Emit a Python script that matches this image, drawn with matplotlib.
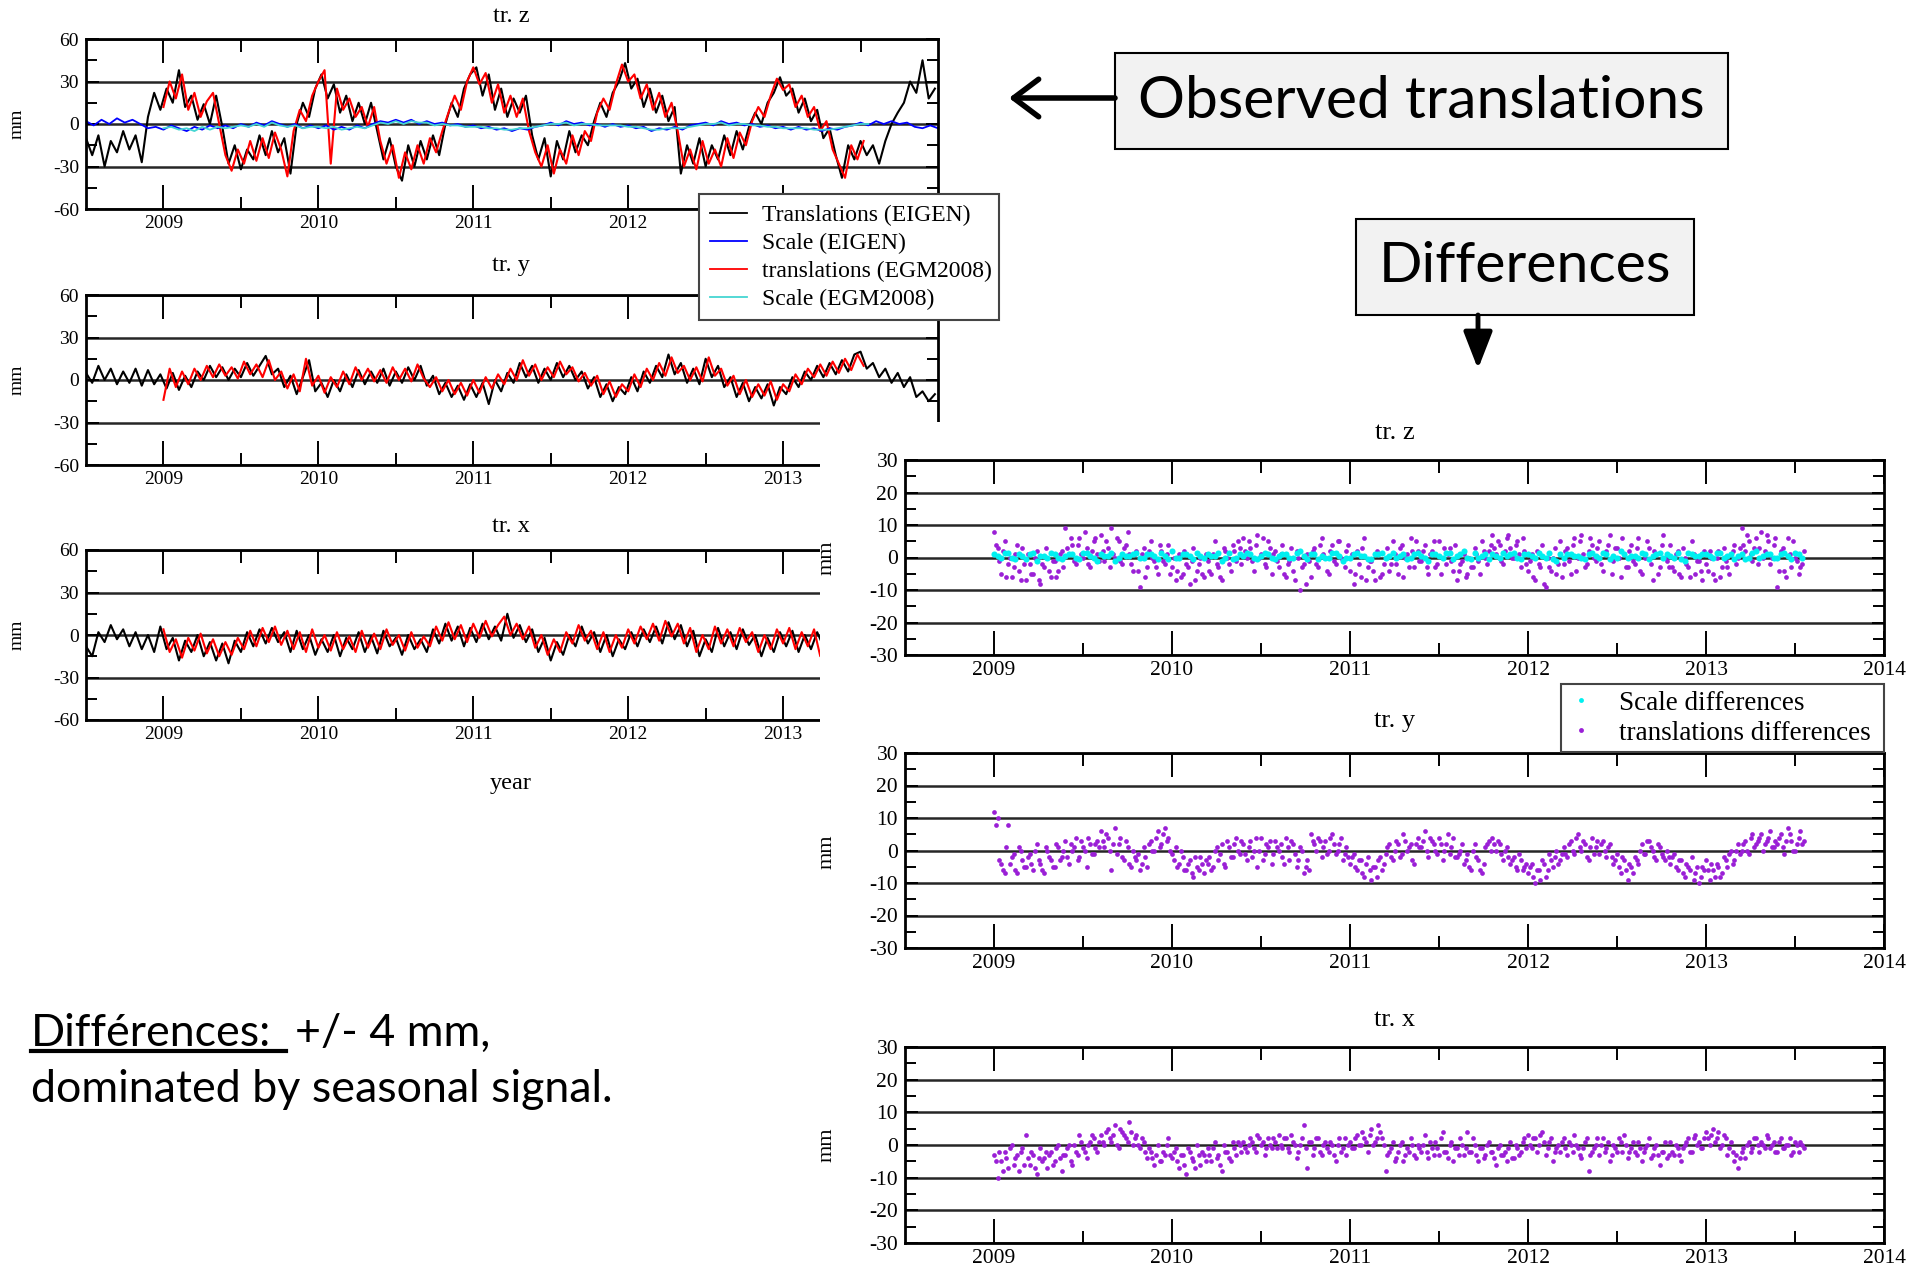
import numpy as np
import matplotlib
matplotlib.use("Agg")
import matplotlib.pyplot as plt
from matplotlib.patches import Rectangle, FancyArrowPatch
from matplotlib.lines import Line2D
from matplotlib.ticker import MultipleLocator, FixedLocator

# ---------------- data ----------------
# Observed translations (mm), left panels
t0_eigen = 2008.50   # first epoch of EIGEN solution series
t0_egm = 2009.00     # first epoch of EGM2008 solution series
dt_line = 0.04       # sampling of the translation series (yr)
dt_scale = 0.05      # sampling of the scale series (yr)

trz_eigen = [-10, -22, -8, -30, -12, -20, -5, -18, -8, -27,
             5, 22, 10, 25, 15, 38, 12, 20, 3, 14,
             0, 20, -2, -28, -15, -32, -18, -25, -8, -22,
             -5, -20, -10, -35, 0, 15, 5, 25, 35, 18,
             28, 8, 20, 2, 15, 0, 15, -5, -25, -10,
             -30, -40, -15, -30, -12, -25, -8, -22, 0, 15,
             5, 25, 35, 40, 20, 35, 10, 25, 5, 18,
             8, 20, -8, -25, -10, -37, -12, -25, -5, -20,
             -8, -15, 2, 15, 5, 22, 30, 43, 25, 32,
             12, 25, 8, 20, 2, 12, -35, -15, -28, -10,
             -30, -15, -25, -8, -22, -5, -18, -2, 8, 0,
             15, 22, 33, 20, 25, 8, 18, 2, 10, -10,
             -3, -22, -38, -15, -25, -12, -22, -15, -28, -12,
             0, 8, 15, 30, 22, 45, 18, 25]
trz_egm = [12, 30, 18, 35, 10, 22, 5, 16, 22, 0,
           -22, -33, -18, -28, -12, -26, -10, -24, -6, -18,
           -37, -5, 10, 2, 20, 30, 38, -28, 25, 10,
           18, 5, 12, -2, 12, -12, -28, -15, -38, -20,
           -32, -15, -28, -10, -20, -5, 8, 20, 10, 30,
           40, 28, 36, 15, 28, 8, 20, 5, 18, -5,
           -20, -30, -15, -35, -18, -28, -8, -22, -5, -12,
           8, 18, 10, 28, 42, 30, 35, 18, 28, 10,
           22, 5, 15, -5, -30, -18, -32, -12, -28, -18,
           -30, -10, -24, -6, -15, 2, 12, 5, 20, 32,
           24, 28, 12, 20, 5, 12, -5, 2, -18, -28,
           -38, -15, -25, -12]
scale_eigen = [2, -1, 3, 0, 4, 1, 3, 0, -3, -2,
               -4, -1, -3, -5, -2, -4, -1, -3, -1, -3,
               0, -2, 1, -1, 2, 0, -2, 0, -3, -1,
               -3, -1, -4, -2, -4, -1, -3, 0, 2, 1,
               3, 1, 3, 0, 2, 0, 1, -1, 0, -2,
               -1, -3, -2, -4, -3, -5, -3, -4, -2, -1,
               1, -1, 2, 0, 1, -1, 0, -2, 0, -2,
               -1, -3, -2, -5, -3, -4, -2, -4, -1, 0,
               1, -1, 2, 0, 1, -1, 0, -2, -1, -3,
               -2, -4, -2, -4, -3, -5, -3, -4, -2, -1,
               1, -1, 2, 0, 2, 0, 1, -2, -3, -1, -3]
scale_egm = [-3, -2, -4, -3, -5, -2, -4, -2, -3, -2,
             -1, -2, 0, -2, 1, -1, -2, -1, -3, -2,
             -2, -3, -2, -4, -3, -2, -3, -1, 1, 0,
             2, 0, 2, 1, 1, -1, 0, -1, -1, -2,
             -2, -2, -3, -3, -4, -4, -3, -3, -2, -1,
             0, 0, 1, -1, 0, 0, -1, -1, -1, -1,
             -2, -2, -3, -4, -4, -3, -3, -3, -2, -1,
             0, 0, 1, -1, 0, 0, -1, -1, -2, -2,
             -3, -3, -3, -3, -4, -4, -4, -3, -2, -1,
             0, 0]
try_eigen = [5, -2, 10, 0, 8, -3, 6, -2, 8, -4,
             7, -3, 4, -6, 5, -7, 3, -5, 6, 0,
             10, 2, 9, 0, 8, 2, 12, 3, 10, 17,
             4, 8, -5, 3, -10, 2, 14, -8, -2, -12,
             0, -8, 4, -5, 7, -3, 6, -2, 8, -4,
             6, -2, 9, 0, 10, -4, 3, -10, -2, -12,
             -4, -14, -3, -12, -2, -17, 0, -8, 5, -2,
             12, 2, 10, -2, 8, 0, 12, 2, 10, 0,
             6, -6, 2, -12, -3, -15, -5, -10, 2, -8,
             6, -2, 10, 2, 18, 4, 12, -2, 8, -3,
             15, 2, 10, -5, 2, -12, -2, -15, -5, -13,
             -3, -18, -5, -10, 2, -5, 6, 0, 10, 2,
             12, 4, 14, 6, 18, 20, 8, 12, 2, 8,
             -2, 5, -5, 2, -12, -8, -15, -10]
try_egm = [-14, 8, -5, 6, -3, 8, 0, 10, 2, 11,
           3, 9, 1, 13, 4, 11, 2, 14, 0, 6,
           -6, 4, -8, 15, -4, 3, -9, 2, -5, 6,
           -3, 9, 0, 8, -1, 7, -2, 9, 0, 8,
           -1, 11, 1, -5, 2, -8, 0, -10, -2, -11,
           0, -9, 2, -6, 4, -3, 8, 0, 14, 3,
           11, 0, 9, 2, 13, 4, 9, -1, 5, -4,
           3, -10, -1, -12, -3, -8, 4, -5, 8, 0,
           12, 3, 16, 5, 10, 0, 9, -1, 16, 3,
           8, -4, 3, -10, 0, -12, -3, -11, -1, -14,
           -3, -8, 4, -3, 8, 2, 11, 3, 13, 5,
           15, 7, 18, 10]
trx_eigen = [-8, -15, 2, -5, 7, -3, 4, -8, 2, -10,
             0, -12, 6, -10, -2, -18, -4, -12, 0, -15,
             -5, -18, -6, -20, -4, -12, 2, -8, 4, -6,
             5, -5, 2, -12, 3, -10, 0, -14, -3, -12,
             0, -15, -2, -10, 2, -12, -1, -13, 3, -8,
             -2, -14, 0, -10, -3, -12, 4, -6, 8, -4,
             6, -8, 5, -5, 8, -3, 6, -4, 15, -2,
             7, -5, 4, -12, -2, -18, -5, -14, 0, -8,
             6, -6, 2, -12, 0, -15, -3, -10, 2, -8,
             4, -5, 6, -6, 9, -3, 7, -8, 3, -15,
             -3, -12, 5, -8, 2, -10, 4, -7, 0, -15,
             -2, -12, 2, -8, 3, -12, 0, -10, 2, -8,
             -4]
trx_egm = [4, -12, -3, -16, -2, -11, 1, -13, -3, -15,
           -5, -14, -2, -10, 3, -8, 5, -5, 6, -7,
           3, -10, 2, -12, 4, -9, 0, -11, 2, -10,
           -1, -12, 3, -9, 1, -10, 4, -7, 0, -11,
           2, -9, -1, -8, 6, -4, 9, -3, 7, -5,
           8, -2, 10, -1, 7, 13, 0, 8, -3, 6,
           -9, 0, -14, -3, -12, 2, -6, 7, -4, 3,
           -10, 2, -12, 0, -9, 4, -6, 6, -3, 8,
           -4, 10, -1, 8, -6, 5, -12, 0, -10, 6,
           -6, 4, -8, 5, -5, 2, -12, 0, -10, 4,
           -6, 5, -10, 2, -8, 4, -15, -5]

# Differences (mm), right panels: two interleaved epoch sets (a: 2009.00 + k*0.02,
# b: 2009.01 + k*0.02) for translations; scale differences every 0.04 yr (a, b offset 0.02)
t0_diff_a = 2009.00
t0_diff_b = 2009.01
dt_diff = 0.02
t0_sdiff_a = 2009.00
t0_sdiff_b = 2009.02
dt_sdiff = 0.04
dz_trans = [8, 3, -5, 5, -2, -6, 1, -4, 3, -7,
            -2, -5, 2, -8, -3, 0, -6, -1, -4, 2,
            9, 1, 4, -2, 6, 0, 3, -3, 5, 1,
            7, -1, 3, 9, 0, 5, -2, 4, 1, -4,
            2, -9, 3, -3, 5, -1, -5, 2, -2, 4,
            -3, -7, 1, -5, -2, -8, 3, -4, 0, -6,
            -1, -5, 5, -3, -7, 2, -2, 4, -1, 3,
            6, 0, 3, -4, 7, 1, -2, 5, -5, 2,
            -3, 4, -6, -1, -4, 2, -10, -2, 1, -6,
            3, -3, 6, 0, -5, 4, -2, 5, -1, 2,
            -4, -8, 2, -6, 6, -3, -1, -7, 1, -5,
            0, -4, 5, -2, 3, -6, 1, 6, -3, 2,
            -1, 4, -5, 2, -3, 5, 0, -2, 3, -4,
            -7, -2, 1, -5, -3, 3, -1, 5, 0, 2,
            7, 1, 4, -2, 6, 3, 0, 5, -3, 2,
            -4, 1, -7, -2, 4, -9, -3, 0, -5, 5,
            -2, 3, -5, 6, 0, 7, -3, 2, 4, -1,
            5, -4, 2, 7, -1, 3, -6, 1, -3, 4,
            -2, 6, -5, 0, 3, -7, 1, -3, 7, -1,
            4, -4, 2, -6, 0, -3, 5, -5, -1, -7,
            -2, 2, -5, 0, -6, 3, -3, 1, 4, 0,
            9, 2, 5, -1, 6, 3, 0, 7, -2, 4,
            -9, 2, -4, 6, -3, 0, -5, -2]
dz_trans_b = [4, -1, 2, -6, 0, -3, 4, -7, -2, 1,
              -5, 0, -7, -2, 3, -4, -1, -6, 1, -3,
              3, 6, -1, 4, 1, 8, -2, 2, 6, -1,
              2, 5, -3, 1, 6, -1, 3, 8, -2, 1,
              -4, 1, -6, 2, 0, -3, 4, -1, 1, -5,
              0, -4, -6, 2, -3, -1, -7, -2, -5, 1,
              -4, 1, -2, -6, 3, 0, -4, 2, 5, -2,
              2, 5, -1, 4, 0, 6, -3, 3, 1, -1,
              1, -5, -2, 3, -7, 0, -3, -8, -1, 2,
              -2, 4, 1, -4, 2, -1, 5, 0, -3, 4,
              1, -5, -2, 3, -7, -1, -4, 2, -6, -2,
              3, -2, 1, -5, 4, 0, -3, 2, 5, -1,
              2, -3, 1, 5, -2, -5, 3, 1, -1, 4,
              -4, -1, -6, 0, -3, 1, -5, 2, -2, 4,
              3, 5, -1, 2, 7, 0, 4, 1, 6, -2,
              -1, -6, 2, -3, -8, 0, -4, 3, -2, -6,
              2, -1, 4, -4, 5, 1, -2, 6, 0, 3,
              -2, 1, 4, -5, 3, 0, 6, -3, 2, -1,
              3, -4, 1, 5, -2, 2, -5, 4, 0, -3,
              -3, 1, -5, 3, -2, -6, 1, -1, -4, 2,
              -4, 0, -7, 2, -3, -1, -5, 2, -2, 3,
              4, 7, 1, 3, -2, 8, 2, 5, 0, 6,
              -4, 3, -6, 1, 5, -1, -3, 2]
dz_scale = [1, 0, 1.5, -0.5, 0.5, 1, -1, 0.5, 1.5, 0,
            0.5, 1, -0.5, 1.5, 0, 1, 0.5, -1, 1, 0.5,
            1.5, 0, 1, -0.5, 0.5, 2, 0, 1, -0.5, 0.5,
            1, 0.5, -1, 1.5, 0, 0.5, 1, -0.5, 1.5, 0,
            0.5, 1, 0, 2, -0.5, 1, 0.5, 0, 1.5, -1,
            0, 1.5, 0.5, -0.5, 1, 0, 1.5, 0.5, -0.5, 1,
            0.5, -1, 1, 0, 1.5, 0.5, 2, -0.5, 0, 1,
            1, 0, 0.5, 1.5, -0.5, 1, 0, 0.5, 1.5, -1,
            0, 1, 0.5, -0.5, 1.5, 0, 1, 0.5, 2, 0,
            0.5, 1.5, -0.5, 1, 0, 0.5, 1.5, -1, 1, 0.5,
            1, 0, 1.5, 0.5, -0.5, 1, 0, 2, 0.5, 1,
            0, 1.5, -0.5, 1]
dz_scale_b = [0.5, 1.5, 0, 1, -0.5, 1.5, 0.5, 0, 1, -0.5,
              1, 0, 1.5, 0.5, -1, 0.5, 1.5, 0, 0.5, 1,
              0, 1, 0.5, 1.5, -0.5, 0, 1, 0.5, 1.5, 0,
              0.5, 1.5, 0, -0.5, 1, 1.5, 0, 0.5, 1, -0.5,
              1, 0, 1.5, 0.5, 1, -0.5, 0, 1.5, 0.5, 0,
              1, 0.5, -0.5, 1, 1.5, 0.5, 0, 1, 0, 1.5,
              0, 1, 0.5, 1.5, -0.5, 1, 0, 1.5, 0.5, -0.5,
              0.5, 1.5, 1, 0, 1, 0.5, 1.5, 0, -0.5, 1,
              1, 0.5, 0, 1, 0.5, 1.5, -0.5, 0, 1, 0.5,
              0, 1, 0.5, 1.5, 1, 0, -0.5, 1.5, 0.5, 1,
              0.5, 1.5, 0, 1, 0.5, -0.5, 1.5, 0, 1, 0,
              1, 0.5, 1.5, 0]
dy_trans = [12, 10, -4, -7, 8, -2, -6, 1, -3, -5,
            -1, -6, 2, -4, -7, 0, -3, -5, 1, -2,
            3, -4, 0, 4, -2, 1, -5, 2, -1, 3,
            6, 1, 4, -6, 7, 2, -2, 3, -4, 0,
            -3, -6, 1, -5, 3, 0, 6, 2, 7, 4,
            -1, 1, -4, -2, -6, -3, -8, -5, -2, -7,
            -4, -6, 0, -3, 2, -5, 1, -2, 4, -1,
            2, -3, 3, 0, -5, 4, -1, 1, -4, 3,
            0, -2, 4, -3, 2, -5, 1, -7, -3, 5,
            2, 4, -2, 3, 0, 5, -1, 2, -3, 1,
            -4, -1, -6, -3, -8, -2, -9, -5, -3, -6,
            -1, 2, -3, 3, -2, 5, 0, 2, -4, 4,
            1, 6, -2, 3, 0, 4, -3, 2, -1, 4,
            -2, 0, -4, -1, -6, 2, -3, -7, 1, 3,
            4, 0, 2, -3, 1, -4, -2, -6, -3, -5,
            -7, -4, -10, -6, -3, -8, -1, -5, 0, -3,
            1, -2, 3, -1, 5, 0, 2, -3, 4, 1,
            -1, 3, -2, 2, -4, -1, -7, -3, -9, -5,
            -2, -4, 2, -1, 3, 0, -3, 1, -2, 0,
            -4, -1, -6, -3, -8, -5, -2, -7, -10, -5,
            -3, -9, -6, -4, -8, -2, -5, 0, -3, 2,
            0, 3, -1, 5, 2, 4, 0, 3, 6, 1,
            2, 5, -1, 7, 3, 0, 4, 2]
dy_trans_b = [8, -3, -6, 1, -4, -1, -7, 0, -5, -2,
              -4, 0, -3, -6, 1, -2, -5, 2, -3, 0,
              -2, 2, 1, -3, 3, 0, 4, -1, 2, 1,
              3, 5, 0, 2, -1, 4, -3, 1, -5, -2,
              -1, -4, -2, 2, 0, 4, 1, 5, 3, 0,
              -3, -5, 0, -6, -4, -7, -2, -6, -4, -3,
              -2, -5, 1, -1, -4, 3, -2, 2, 0, 3,
              -1, 1, -2, 4, 0, -3, 2, 3, -1, 1,
              2, -4, 1, 3, -1, -3, 0, -5, -6, 3,
              0, 3, 1, -1, 4, 2, 0, 4, -1, -2,
              -2, -5, -3, -7, -4, -6, -5, -8, -2, -4,
              1, -2, 0, 2, -1, 3, 1, -3, 2, 1,
              3, 0, 4, 2, -1, 2, 0, 5, 1, -2,
              -1, 2, -3, -5, 0, -2, -6, -4, 2, 0,
              2, 3, -1, 0, -2, -3, -5, -1, -6, -4,
              -5, -8, -6, -9, -4, -6, -3, -2, -4, -1,
              -1, 2, 0, 4, 1, 3, -2, 1, -1, 3,
              2, 0, 1, -2, -3, -5, -2, -6, -4, -7,
              -3, 0, -1, 3, 1, -2, 2, -1, -3, -2,
              -2, -5, -3, -7, -4, -6, -9, -5, -8, -6,
              -6, -4, -8, -5, -7, -3, -1, -4, 0, -1,
              2, 0, 4, 1, 3, 5, 2, 4, 1, 3,
              4, 1, 3, 5, 0, 2, 6, 3]
dx_trans = [-3, -10, -5, -2, -7, 0, -4, -8, -1, 3,
            -6, -3, -9, -1, -4, -7, -2, -5, 0, -8,
            -3, 0, -6, -2, 3, -1, -4, 1, 2, -2,
            3, 0, 5, 1, 6, -1, 4, 2, 7, 0,
            3, -1, 1, -4, -2, -6, 0, -5, -3, 2,
            -4, -1, -7, -3, -9, -2, -5, 0, -6, -3,
            -1, -5, 1, -3, -8, -2, -4, 1, -3, 0,
            1, -2, 2, -1, 3, 0, -3, 2, -1, 1,
            3, -1, 2, -2, 1, -4, 0, 6, -7, 1,
            -1, 2, -3, 1, -2, 0, -5, 2, -1, -3,
            1, -1, 3, 0, 2, -2, 5, 1, 6, 2,
            -8, -2, 1, -4, 0, -5, -1, 2, -3, 0,
            -2, 3, -4, -1, 1, -3, 4, -2, 0, -5,
            -1, 2, -3, 4, -2, 0, -5, -1, -3, 1,
            -2, -6, 0, -3, -5, 1, -4, -1, -2, 2,
            3, -1, 2, 0, 4, -3, 1, -5, -1, -2,
            2, -3, 0, 3, -1, -4, 1, -8, -2, 0,
            -3, 2, -1, -5, 0, -2, 1, 3, -4, -1,
            -2, 1, -5, -1, 2, -3, 0, -6, -2, -4,
            1, -3, -1, -5, 0, 2, -2, 3, 1, -1,
            4, 0, 5, 2, -1, 3, -3, 1, -5, -7,
            -2, -4, 1, -1, 2, -2, 0, 3, -1, 1,
            -2, 2, -1, 0, -3, 1, -2, 0]
dx_trans_b = [-5, -2, -8, -4, -1, -6, -3, -2, -6, -4,
              -2, -7, -4, -5, -2, -3, -6, -1, -4, -3,
              -1, -5, 0, -3, 1, -2, 0, 3, -1, 1,
              1, 4, 2, 3, 0, 5, 3, 1, 4, 2,
              0, 2, -2, -1, -4, -3, -5, -2, 0, -3,
              -2, -5, -3, -6, -1, -4, -7, -3, -2, -5,
              -3, -1, -4, -6, 0, -2, -5, -1, 1, -2,
              -1, 0, 1, -2, 2, 1, -1, 0, 2, -1,
              0, 2, -1, 3, 0, -2, 2, -1, 1, -3,
              2, -2, 0, -1, 1, -3, 0, -2, 2, 0,
              -1, 2, 0, 4, 1, 3, 0, 2, 4, 0,
              -3, -1, -5, -2, 1, -3, -2, 0, -4, -1,
              0, -2, 1, -3, -1, 2, -2, -4, 1, -1,
              -3, 0, -1, -2, 2, -3, -1, -4, 0, -2,
              -4, -1, -3, -2, -1, -4, 0, -3, 1, -1,
              0, 2, -2, 3, 1, -1, 2, -2, 0, 1,
              -1, 1, -2, 0, -3, -1, 2, -3, -1, 2,
              0, -2, 1, -3, -1, 2, -2, 0, -2, 1,
              -3, -1, -2, 0, -4, -1, -3, -2, 1, -3,
              -2, 0, -3, -1, 1, -2, 2, 0, -1, 2,
              2, 3, 1, 4, 0, 2, -1, -2, -3, -4,
              -1, 0, -2, 2, 0, 1, -1, 2, 0, -2,
              1, -1, 0, 2, -2, 0, 1, -1]

years_left = [2009, 2010, 2011, 2012, 2013]
years_right = [2009, 2010, 2011, 2012, 2013, 2014]
half_years = [2009.5, 2010.5, 2011.5, 2012.5, 2013.5]
left_titles = ["tr. z", "tr. y", "tr. x"]
right_titles = ["tr. z", "tr. y", "tr. x"]
left_legend_labels = ["Translations (EIGEN)", "Scale (EIGEN)",
                      "translations (EGM2008)", "Scale (EGM2008)"]
right_legend_labels = ["Scale differences", "translations differences"]

# ---------------- style ----------------
SERIF = ["Liberation Serif", "DejaVu Serif"]
SANS = ["Lato", "DejaVu Sans"]
plt.rcParams["font.family"] = SERIF
plt.rcParams["axes.unicode_minus"] = False

C_BLACK = "black"
C_RED = "#ff0000"
C_BLUE = "#0000ff"
C_TURQ = "#45d6d2"
C_CYAN = "#00f0f0"
C_PURPLE = "#9a1fd6"

W, H = 1930, 1270
fig = plt.figure(figsize=(W / 100, H / 100), dpi=100)


def fx(x):
    return x / W


def fy(y):
    return 1 - y / H


def px_axes(x0, y0, x1, y1, z):
    ax = fig.add_axes([x0 / W, 1 - y1 / H, (x1 - x0) / W, (y1 - y0) / H])
    ax.set_zorder(z)
    return ax


def tser(start, step, vals):
    return start + step * np.arange(len(vals))


def style(ax, ylim, ymaj, ymin, years, lsize):
    ax.set_xlim(2008.5, 2014.0)
    ax.set_ylim(-ylim, ylim)
    ax.yaxis.set_major_locator(MultipleLocator(ymaj))
    ax.yaxis.set_minor_locator(MultipleLocator(ymin))
    ax.xaxis.set_major_locator(FixedLocator(years))
    ax.xaxis.set_minor_locator(FixedLocator(half_years))
    ax.tick_params(axis="x", which="major", direction="in", length=17, width=1.4,
                   top=True, bottom=True, pad=4, labelsize=lsize)
    ax.tick_params(axis="x", which="minor", direction="in", length=9, width=1.4,
                   top=True, bottom=True)
    ax.tick_params(axis="y", which="major", direction="in", length=9, width=1.4,
                   left=True, right=True, pad=5, labelsize=lsize)
    ax.tick_params(axis="y", which="minor", direction="in", length=8, width=1.4,
                   left=True, right=True)
    for s in ax.spines.values():
        s.set_linewidth(2.0)
    ax.grid(axis="y", which="major", color="#262626", lw=1.8)


# ---------------- left panels ----------------
axL = [px_axes(86, 39, 938, 209, 0),
       px_axes(86, 295, 938, 465, 0),
       px_axes(86, 550, 938, 720, 0)]
for ax in axL:
    style(ax, 60, 30, 15, years_left, 14)

ax = axL[0]
ax.plot(tser(t0_eigen, dt_line, trz_eigen), trz_eigen, color=C_BLACK, lw=1.5)
ax.plot(tser(t0_egm, dt_line, trz_egm), trz_egm, color=C_RED, lw=1.5)
ax.plot(tser(t0_eigen, dt_scale, scale_eigen), scale_eigen, color=C_BLUE, lw=1.3)
ax.plot(tser(t0_egm, dt_scale, scale_egm), scale_egm, color=C_TURQ, lw=1.3)
# the 2013 label of the top panel is hidden under the legend
for lab in ax.get_xticklabels():
    if lab.get_text() == "2013":
        lab.set_visible(False)

ax = axL[1]
ax.plot(tser(t0_eigen, dt_line, try_eigen), try_eigen, color=C_BLACK, lw=1.5)
ax.plot(tser(t0_egm, dt_line, try_egm), try_egm, color=C_RED, lw=1.5)

ax = axL[2]
ax.plot(tser(t0_eigen, dt_line, trx_eigen), trx_eigen, color=C_BLACK, lw=1.5)
ax.plot(tser(t0_egm, dt_line, trx_egm), trx_egm, color=C_RED, lw=1.5)

for ttl, yc in zip(left_titles, [16, 266, 527]):
    fig.text(fx(511), fy(yc), ttl, ha="center", va="center", fontsize=17.5)
for yc in [124, 380, 635]:
    fig.text(fx(17), fy(yc), "mm", ha="center", va="center", rotation=90, fontsize=14)
fig.text(fx(511), fy(784), "year", ha="center", va="center", fontsize=17.5)

handles = [Line2D([], [], color=C_BLACK, lw=1.3), Line2D([], [], color=C_BLUE, lw=1.3),
           Line2D([], [], color=C_RED, lw=1.3), Line2D([], [], color=C_TURQ, lw=1.3)]
legL = fig.legend(handles, left_legend_labels, loc="upper left",
                  bbox_to_anchor=(fx(699), fy(319), 300 / W, 125 / H),
                  mode="expand", frameon=True, fancybox=False, framealpha=1,
                  edgecolor="#444444", prop={"family": SERIF, "size": 17},
                  handlelength=1.6, handletextpad=0.6, labelspacing=0.27,
                  borderpad=0.45, borderaxespad=0)
legL.get_frame().set_linewidth(1.5)
legL.set_zorder(5)

# white panel of the right-hand figure covering the left plots
fig.add_artist(Rectangle((fx(820), 0), 1 - fx(820), fy(422), transform=fig.transFigure,
                         facecolor="white", edgecolor="none", zorder=1))

# ---------------- right panels ----------------
axR = [px_axes(905, 460, 1884, 655, 2),
       px_axes(905, 753, 1884, 948, 2),
       px_axes(905, 1047, 1884, 1243, 2)]
for ax in axR:
    style(ax, 30, 10, 5, years_right, 15.5)

for ax, va, vb in zip(axR, [dz_trans, dy_trans, dx_trans],
                      [dz_trans_b, dy_trans_b, dx_trans_b]):
    ax.plot(tser(t0_diff_a, dt_diff, va), va, ls="none", marker="o", ms=3.4,
            mew=0, color=C_PURPLE)
    ax.plot(tser(t0_diff_b, dt_diff, vb), vb, ls="none", marker="o", ms=3.4,
            mew=0, color=C_PURPLE)
axR[0].plot(tser(t0_sdiff_a, dt_sdiff, dz_scale), dz_scale, ls="none", marker="o",
            ms=4.4, mew=0, color=C_CYAN)
axR[0].plot(tser(t0_sdiff_b, dt_sdiff, dz_scale_b), dz_scale_b, ls="none", marker="o",
            ms=4.4, mew=0, color=C_CYAN)

for ttl, yc in zip(right_titles, [433, 721, 1020]):
    fig.text(fx(1395), fy(yc), ttl, ha="center", va="center", fontsize=19, zorder=3)
for yc in [558, 852, 1145]:
    fig.text(fx(827), fy(yc), "mm", ha="center", va="center", rotation=90, fontsize=16,
             zorder=3)

hR = [Line2D([], [], ls="none", marker="o", ms=3.5, mew=0, color=C_CYAN),
      Line2D([], [], ls="none", marker="o", ms=3.5, mew=0, color=C_PURPLE)]
legR = fig.legend(hR, right_legend_labels, loc="upper left",
                  bbox_to_anchor=(fx(1561), fy(751), 323 / W, 67 / H),
                  mode="expand", frameon=True, fancybox=False, framealpha=1,
                  edgecolor="#444444", prop={"family": SERIF, "size": 19.5},
                  handlelength=1.0, handletextpad=0.9, labelspacing=0.18,
                  borderpad=0.25, borderaxespad=0, numpoints=1)
legR.get_frame().set_linewidth(1.5)
legR.set_zorder(6)

# ---------------- annotations ----------------
renderer = fig.canvas.get_renderer()


def fit_text(x, y, s, target_w, **kw):
    t = fig.text(fx(x), fy(y), s, fontsize=40, family=SANS, zorder=6, **kw)
    w = t.get_window_extent(renderer).width
    t.set_fontsize(40 * target_w / w)
    return t


fig.add_artist(Rectangle((fx(1115), fy(149)), (1728 - 1115) / W, (149 - 53) / H,
                         transform=fig.transFigure, facecolor="#f2f2f2",
                         edgecolor="black", lw=1.5, zorder=5))
fit_text(1421, 101, "Observed translations", 567, ha="center", va="center")

fig.add_artist(Rectangle((fx(1356), fy(315)), (1694 - 1356) / W, (315 - 219) / H,
                         transform=fig.transFigure, facecolor="#f2f2f2",
                         edgecolor="black", lw=1.5, zorder=5))
fit_text(1525, 267, "Differences", 292, ha="center", va="center")

fig.add_artist(FancyArrowPatch((fx(1115), fy(98)), (fx(1009), fy(98)),
                               transform=fig.transFigure,
                               arrowstyle="->,head_length=0.6,head_width=0.45",
                               mutation_scale=30, lw=4, color="black",
                               shrinkA=0, shrinkB=0, zorder=6))
fig.add_artist(FancyArrowPatch((fx(1478), fy(315)), (fx(1478), fy(369)),
                               transform=fig.transFigure,
                               arrowstyle="-|>,head_length=0.9,head_width=0.35",
                               mutation_scale=25, lw=3.5, color="black",
                               shrinkA=0, shrinkB=0, zorder=6))

t2 = fit_text(31, 1102, "dominated by seasonal signal.", 581, ha="left", va="baseline")
fs = t2.get_fontsize()
fig.text(fx(31), fy(1046), "Différences:", fontsize=fs, family=SANS, ha="left",
         va="baseline", zorder=6)
fig.text(fx(295), fy(1046), "+/- 4 mm,", fontsize=fs, family=SANS, ha="left",
         va="baseline", zorder=6)
fig.add_artist(Line2D([fx(31), fx(286)], [fy(1051), fy(1051)], transform=fig.transFigure,
                      color="black", lw=3, zorder=6))

fig.savefig("out.png", dpi=100)
